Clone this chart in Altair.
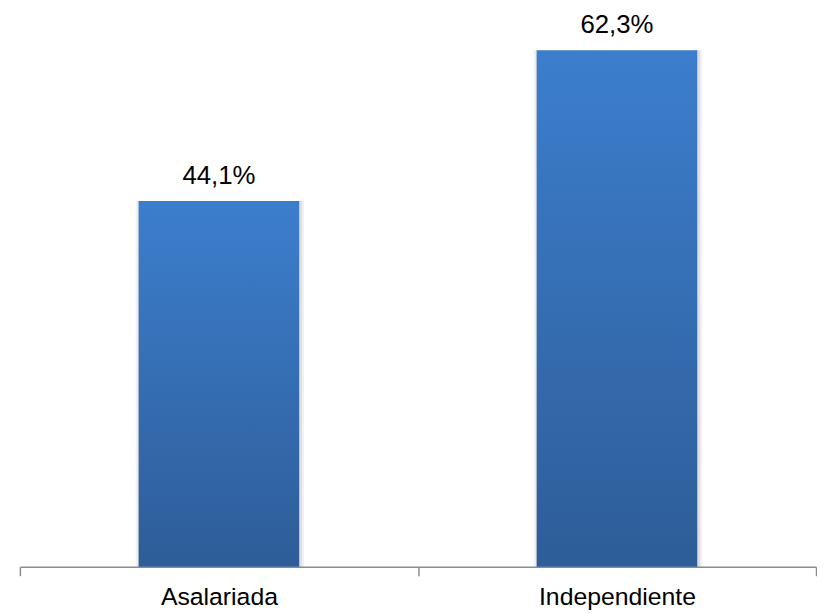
import altair as alt
import pandas as pd

categories = ["Asalariada", "Independiente"]
values = [44.1, 62.3]
value_labels = [f"{v:.1f}".replace(".", ",") + "%" for v in values]

df = pd.DataFrame({"cat": categories, "val": values, "lab": value_labels})

x_enc = alt.X("cat:N", sort=categories, title=None,
              scale=alt.Scale(paddingInner=0, paddingOuter=0),
              axis=alt.Axis(labelAngle=0, tickBand="extent", domainColor="#8c8c8c",
                            tickColor="#8c8c8c", tickSize=9, domainWidth=1.5, tickWidth=1.5,
                            labelFont="Liberation Sans", labelFontSize=25, labelColor="#000000",
                            labelBaseline="alphabetic", labelPadding=29))
y_enc = alt.Y("val:Q", title=None,
              scale=alt.Scale(domain=[0, 67.07], nice=False, zero=True),
              axis=None)

base = alt.Chart(df).encode(x=x_enc, y=y_enc)

shadow1 = base.mark_bar(size=170, color="#000000", opacity=0.05, xOffset=1)
shadow2 = base.mark_bar(size=166, color="#000000", opacity=0.07, xOffset=1)

bars = base.mark_bar(size=162, color=alt.Gradient(
    gradient="linear", x1=0, y1=0, x2=0, y2=1,
    stops=[alt.GradientStop(color="#3c7ecd", offset=0),
           alt.GradientStop(color="#2e5d98", offset=1)]))

text = base.mark_text(font="Liberation Sans", fontSize=26, color="#000000",
                      baseline="alphabetic", dy=-17.5).encode(text="lab:N")

chart = (shadow1 + shadow2 + bars + text).properties(
    width=803, height=561, background="#ffffff",
    padding={"left": 11, "top": 0, "right": 0, "bottom": 0},
).configure_view(strokeWidth=0, stroke=None)

chart.save("out.html", embed_options={"renderer": "svg", "actions": False})
